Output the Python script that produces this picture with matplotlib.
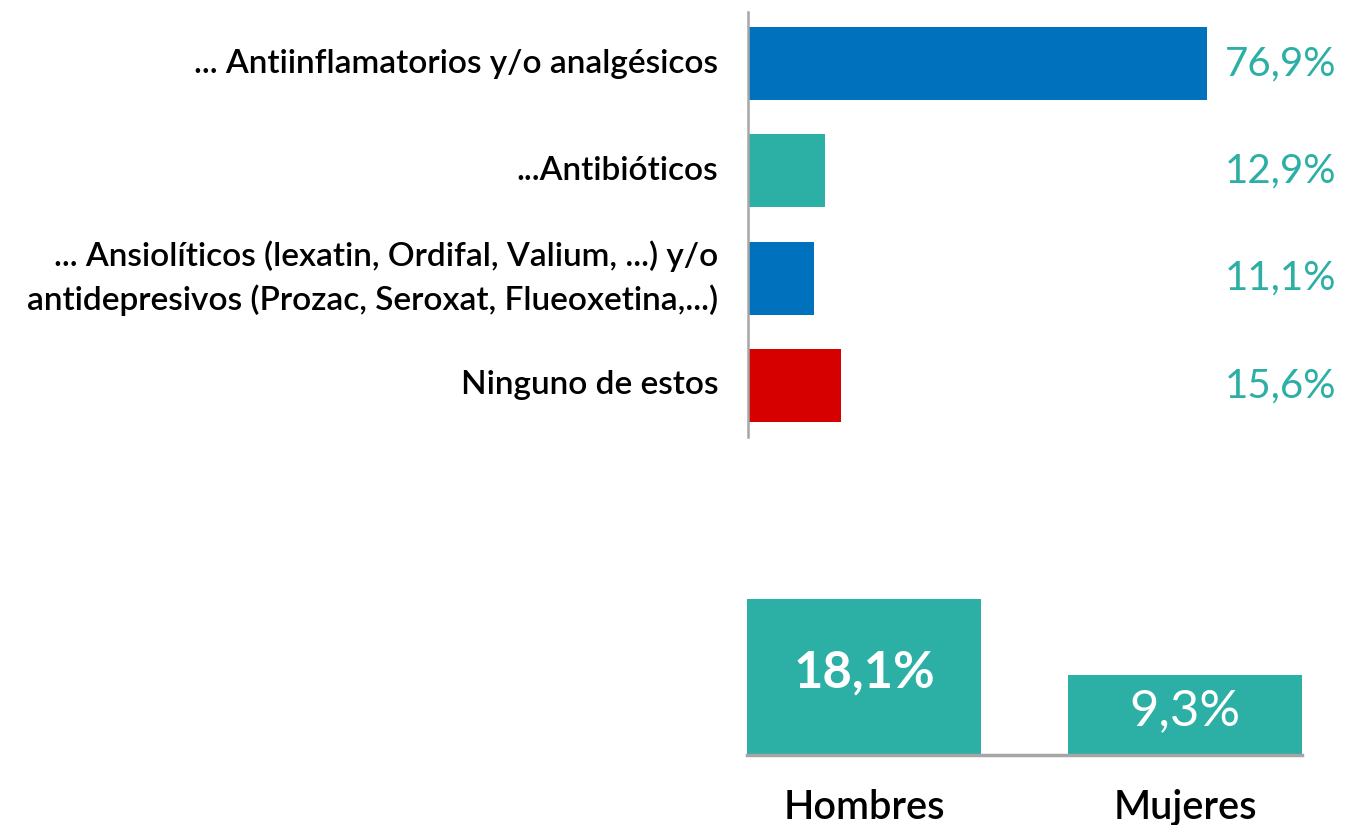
import matplotlib
matplotlib.use("Agg")
import matplotlib.pyplot as plt

plt.rcParams['font.family'] = ['Lato', 'DejaVu Sans']

categories = ["... Antiinflamatorios y/o analgésicos",
              "...Antibióticos",
              "... Ansiolíticos (lexatin, Ordifal, Valium, ...) y/o\nantidepresivos (Prozac, Seroxat, Flueoxetina,...)",
              "Ninguno de estos"]
values = [76.9, 12.9, 11.1, 15.6]
value_labels = ["76,9%", "12,9%", "11,1%", "15,6%"]

sex_categories = ["Hombres", "Mujeres"]
sex_values = [18.1, 9.3]
sex_labels = ["18,1%", "9,3%"]

BLUE = "#0071BC"
TEAL = "#2CAFA5"
RED = "#D70000"
bar_colors = [BLUE, TEAL, BLUE, RED]

W, H = 1348, 825
fig = plt.figure(figsize=(W / 100, H / 100), dpi=100)

# Top chart
ax1 = fig.add_axes([748 / W, 1 - 437 / H, 600 / W, 425 / H])
ypos = list(range(len(categories)))
ax1.barh(ypos, values, height=0.68, color=bar_colors)
ax1.set_xlim(0, 100.5)
ax1.set_ylim(3.48, -0.48)
ax1.set_yticks(ypos)
ax1.set_yticklabels(categories, fontsize=24, fontweight='semibold', color='black',
                    linespacing=1.5, va='center')
ax1.tick_params(axis='y', length=0, pad=21.5)
ax1.set_xticks([])
for s in ['top', 'right', 'bottom']:
    ax1.spines[s].set_visible(False)
ax1.spines['left'].set_color('#A6A6A6')
ax1.spines['left'].set_linewidth(1.8)
for y, lab in zip(ypos, value_labels):
    ax1.text(0.795, y, lab, transform=ax1.get_yaxis_transform(), ha='left', va='center',
             fontsize=29, color=TEAL)

# Bottom chart
ax2 = fig.add_axes([747 / W, 1 - 755 / H, 555 / W, 165 / H])
xpos = list(range(len(sex_categories)))
ax2.bar(xpos, sex_values, width=0.73, color=TEAL)
ax2.set_xlim(-0.365, 1.365)
ax2.set_ylim(0, 19.14)
ax2.set_yticks([])
ax2.set_xticks(xpos)
ax2.set_xticklabels(sex_categories, fontsize=28.5, fontweight='semibold', color='black')
ax2.tick_params(axis='x', length=0, pad=24.5)
for s in ['top', 'right', 'left']:
    ax2.spines[s].set_visible(False)
ax2.spines['bottom'].set_color('#A6A6A6')
ax2.spines['bottom'].set_linewidth(2.5)
weights = ['bold', 'normal']
for x, v, lab, w in zip(xpos, sex_values, sex_labels, weights):
    ax2.text(x, v / 2 + 0.45, lab, ha='center', va='center',
             fontsize=36.5, color='white', fontweight=w)

fig.savefig("out.png", dpi=100)
